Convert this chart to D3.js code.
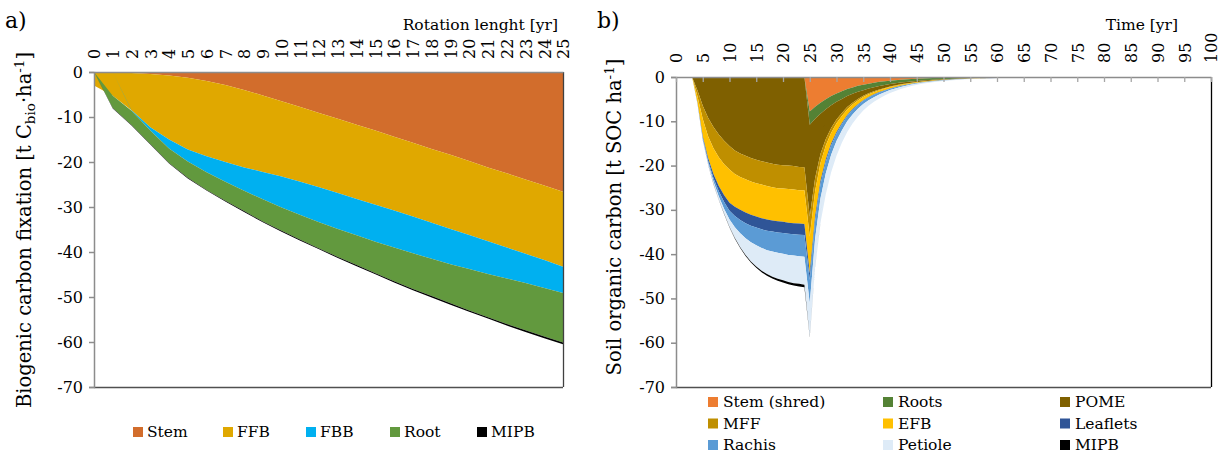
<!DOCTYPE html>
<html><head><meta charset="utf-8">
<script src="https://cdn.jsdelivr.net/npm/d3@7"></script>
<style>body{margin:0;background:#fff}svg{display:block}</style>
</head><body>
<svg id="c" width="1224" height="454"></svg>
<script>
// ---------- Panel a: biogenic carbon fixation ----------
const yearsA = [0,1,2,3,4,5,6,7,8,9,10,11,12,13,14,15,16,17,18,19,20,21,22,23,24,25];
const stemA = [0,0.05,0.2,0.45,0.8,1.3,2.0,2.9,4.0,5.2,6.5,7.8,9.1,10.4,11.7,13.0,14.4,15.7,17.1,18.4,19.8,21.2,22.5,23.9,25.2,26.6];
const ffbA  = [3.0,5.25,8.3,11.85,14.2,15.9,16.7,17.1,17.2,17.0,16.7,16.6,16.5,16.5,16.5,16.5,16.4,16.4,16.4,16.5,16.4,16.4,16.5,16.5,16.6,16.7];
const fbbA  = [0,0,0.1,0.7,2.0,2.7,3.6,4.4,5.2,6.1,6.9,7.4,7.8,8.0,8.1,8.2,8.2,8.2,8.0,7.8,7.6,7.3,6.9,6.5,6.2,5.8];
const rootA = [0,2.7,3.2,3.0,3.2,3.6,3.9,4.2,4.5,4.9,5.2,5.5,5.8,6.2,6.6,7.0,7.5,7.9,8.3,8.7,9.2,9.6,10.1,10.5,10.8,11.0];
const mipbA = [0,0.1,0.1,0.1,0.15,0.15,0.15,0.15,0.2,0.2,0.2,0.2,0.2,0.25,0.25,0.25,0.25,0.3,0.3,0.3,0.3,0.3,0.35,0.35,0.35,0.4];
const seriesA = ["Stem","FFB","FBB","Root","MIPB"];
const colorsA = ["#D26D2C","#E0A800","#00B0F0","#62993E","#000000"];
const ticksA = [0,-10,-20,-30,-40,-50,-60,-70];

// ---------- Panel b: soil organic carbon ----------
const timeB = [0,3,4,5,6,7,8,9,10,11,12,13,14,15,16,17,18,19,20,21,22,23,24,25,26,27,28,29,30,31,32,33,34,35,36,37,38,39,40,42,44,46,48,50,53,56,60,65,70,100];
const stemB = [0,0,0,0,0,0,0,0,0,0,0,0,0,0,0,0,0,0,0,0,0,0,0,
  7.8,6.7,5.8,5.0,4.3,3.7,3.2,2.7,2.35,2.0,1.75,1.5,1.3,1.1,0.95,0.82,
  0.6,0.45,0.33,0.24,0.18,0.11,0.07,0.04,0.02,0,0];
const rootsB = [0,0,0,0,0,0,0,0,0,0,0,0,0,0,0,0,0,0,0,0,0,0,0,
  3.0,2.75,2.5,2.3,2.1,1.9,1.75,1.6,1.45,1.33,1.22,1.1,1.0,0.93,0.85,0.78,
  0.65,0.54,0.45,0.38,0.32,0.24,0.18,0.12,0.08,0.05,0];
const pomeB = [0,0,
  3.0,6.5,9.2,11.3,13.0,14.4,15.6,16.6,17.3,17.8,18.3,18.7,19.0,19.3,19.6,19.8,19.9,20.0,20.1,20.3,20.4,
  20.7,13.4,9.1,6.7,5.1,4.0,3.2,2.5,2.0,1.62,1.29,1.09,0.92,0.78,0.67,0.56,
  0.41,0.29,0.22,0.16,0.11,0.07,0.04,0.02,0.008,0.003,0];
const mffB = [0,0,
  1.3,3.0,4.2,4.8,5.1,5.3,5.3,5.3,5.3,5.3,5.3,5.3,5.3,5.3,5.3,5.3,5.3,5.3,5.3,5.3,5.2,
  4.5,2.95,2.0,1.45,1.1,0.85,0.67,0.53,0.42,0.35,0.28,0.23,0.2,0.17,0.14,0.12,
  0.09,0.06,0.05,0.03,0.02,0.015,0.01,0.005,0.002,0.001,0];
const efbB = [0,0,
  1.4,3.9,4.9,5.8,6.5,7.0,7.5,7.4,7.4,7.5,7.5,7.5,7.6,7.6,7.5,7.5,7.5,7.6,7.6,7.5,7.6,
  8.3,5.7,4.1,3.1,2.4,1.95,1.55,1.25,1.0,0.84,0.69,0.59,0.5,0.42,0.36,0.3,
  0.22,0.16,0.12,0.08,0.06,0.04,0.02,0.012,0.005,0.001,0];
const leafB = [0,0,
  0.1,0.3,0.6,0.9,1.2,1.5,1.8,2.1,2.3,2.4,2.5,2.5,2.5,2.5,2.5,2.5,2.5,2.5,2.5,2.5,2.5,
  1.5,1.04,0.74,0.58,0.45,0.37,0.3,0.24,0.2,0.17,0.14,0.12,0.1,0.08,0.07,0.06,
  0.04,0.03,0.02,0.02,0.01,0.01,0.005,0.003,0.001,0,0];
const rachB = [0,0,
  0.1,0.3,0.5,0.8,1.2,1.6,2.0,2.5,3.0,3.4,3.7,4.0,4.2,4.4,4.5,4.6,4.7,4.8,4.8,4.9,4.9,
  5.3,4.0,3.2,2.6,2.1,1.7,1.43,1.2,1.04,0.88,0.74,0.62,0.53,0.45,0.38,0.32,
  0.23,0.17,0.12,0.09,0.07,0.04,0.025,0.013,0.005,0.002,0];
const petB = [0,0,
  0.08,0.15,0.35,0.52,0.7,1.1,1.68,2.45,3.12,3.8,4.35,4.8,5.15,5.4,5.68,5.85,6.0,6.08,6.25,6.2,6.3,
  7.5,6.4,5.55,4.77,3.95,3.33,2.75,2.38,2.04,1.74,1.46,1.25,1.05,0.9,0.78,0.64,
  0.46,0.34,0.24,0.18,0.14,0.075,0.05,0.027,0.009,0.003,0];
const mipbB = [0,0,
  0.02,0.05,0.05,0.08,0.1,0.1,0.12,0.15,0.18,0.2,0.25,0.3,0.35,0.4,0.42,0.45,0.5,0.52,0.55,0.58,0.6,
  0.15,0.05,0.02,0,0,0,0,0,0,0,0,0,0,0,0,0,
  0,0,0,0,0,0,0,0,0,0,0];
const seriesB = ["Stem (shred)","Roots","POME","MFF","EFB","Leaflets","Rachis","Petiole","MIPB"];
const colorsB = ["#ED7D31","#548235","#7F6000","#BF8F00","#FFC000","#2F5597","#5B9BD5","#DEEBF7","#000000"];
const ticksB = [0,-10,-20,-30,-40,-50,-60,-70];
const xTicksB = [0,5,10,15,20,25,30,35,40,45,50,55,60,65,70,75,80,85,90,95,100];

const svg = d3.select("#c");
const SERIF = "'DejaVu Serif', serif";
const TICKF = "'DejaVu Serif', serif";

function buildRows(xs, arrs, names){
  return xs.map((t,i)=>{const r={t}; names.forEach((n,k)=>r[n]=-arrs[k][i]); return r;});
}

function panel(opt){
  const {xs, arrs, names, colors, x, y, yTicks, xTicks, xOffset, tickMarksTop, rightColor, bottomColor} = opt;
  const g = svg.append("g");
  const rows = buildRows(xs, arrs, names);
  const stack = d3.stack().keys(names).offset(d3.stackOffsetDiverging);
  const layers = stack(rows);
  const area = d3.area().x(d=>x(d.data.t)).y0(d=>y(d[0])).y1(d=>y(d[1]));
  g.selectAll("path.layer").data(layers).join("path")
    .attr("class","layer")
    .attr("fill",(d,i)=>colors[i])
    .attr("d",area);
  const [x0,x1] = x.range(); const [y0,y1] = y.range();
  g.append("line").attr("x1",x0).attr("x2",x1).attr("y1",y1+0.5).attr("y2",y1+0.5).attr("stroke",bottomColor).attr("stroke-width",1.3);
  g.append("line").attr("x1",x1+0.5).attr("x2",x1+0.5).attr("y1",y0).attr("y2",y1).attr("stroke",rightColor).attr("stroke-width",1.3);
  const ya = d3.axisLeft(y).tickValues(yTicks).tickSize(5).tickPadding(6).tickFormat(d=>String(d));
  const gy = g.append("g").attr("transform",`translate(${x0},0)`).call(ya);
  gy.select(".domain").attr("stroke","#8c8c8c").attr("stroke-width",1.5);
  gy.selectAll(".tick line").attr("stroke","#8c8c8c").attr("stroke-width",1.5);
  gy.selectAll("text").attr("font-family",TICKF).attr("font-size",16).attr("fill","#000");
  const xa = d3.axisTop(x).tickValues(xTicks).tickSize(tickMarksTop? -5 : 0).tickSizeOuter(0).tickFormat(d=>String(d));
  const gx = g.append("g").attr("transform",`translate(0,${y0})`).call(xa);
  gx.select(".domain").attr("stroke","#8c8c8c").attr("stroke-width",1.5);
  gx.selectAll(".tick line").attr("stroke","#a6a6a6").attr("stroke-width",1.3);
  gx.selectAll("text")
    .attr("font-family",TICKF).attr("font-size",16).attr("fill","#000")
    .attr("transform","rotate(-90)")
    .attr("x",xOffset).attr("y",0).attr("dy","0.36em")
    .style("text-anchor","start");
  return g;
}

const xA = d3.scaleLinear().domain([0,25]).range([94,563]);
const yA = d3.scaleLinear().domain([0,-70]).range([72,387]);
panel({xs:yearsA, arrs:[stemA,ffbA,fbbA,rootA,mipbA], names:seriesA, colors:colorsA,
  x:xA, y:yA, yTicks:ticksA, xTicks:yearsA, xOffset:13, tickMarksTop:false,
  rightColor:"#404040", bottomColor:"#505050"});

const xB = d3.scaleLinear().domain([0,100]).range([676,1211]);
const yB = d3.scaleLinear().domain([0,-70]).range([77,387]);
panel({xs:timeB, arrs:[stemB,rootsB,pomeB,mffB,efbB,leafB,rachB,petB,mipbB], names:seriesB, colors:colorsB,
  x:xB, y:yB, yTicks:ticksB, xTicks:xTicksB, xOffset:14, tickMarksTop:true,
  rightColor:"#000000", bottomColor:"#505050"});

svg.append("text").attr("x",5).attr("y",28).attr("font-family",SERIF).attr("font-size",22).text("a)");
svg.append("text").attr("x",597).attr("y",28).attr("font-family",SERIF).attr("font-size",22).text("b)");

svg.append("text").attr("x",558).attr("y",30).attr("text-anchor","end").attr("font-family",SERIF).attr("font-size",15.5).text("Rotation lenght [yr]");
svg.append("text").attr("x",1178).attr("y",30).attr("text-anchor","end").attr("font-family",SERIF).attr("font-size",15.5).text("Time [yr]");

const tA = svg.append("text").attr("transform","translate(31,230) rotate(-90)").attr("text-anchor","middle")
  .attr("font-family",SERIF).attr("font-size",19.5);
tA.append("tspan").text("Biogenic carbon fixation [t C");
tA.append("tspan").attr("font-size",13.5).attr("dy",4).text("bio");
tA.append("tspan").attr("dy",-4).text("·ha");
tA.append("tspan").attr("font-size",13.5).attr("dy",-7).text("-1");
tA.append("tspan").attr("dy",7).text("]");

const tB = svg.append("text").attr("transform","translate(621,217) rotate(-90)").attr("text-anchor","middle")
  .attr("font-family",SERIF).attr("font-size",19.5);
tB.append("tspan").text("Soil organic carbon [t SOC ha");
tB.append("tspan").attr("font-size",13.5).attr("dy",-7).text("-1");
tB.append("tspan").attr("dy",7).text("]");

const legA = [133,223,306,390,477];
seriesA.forEach((n,i)=>{
  const g = svg.append("g").attr("transform",`translate(${legA[i]},432)`);
  g.append("rect").attr("x",0).attr("y",-5).attr("width",10).attr("height",10).attr("fill",colorsA[i]);
  g.append("text").attr("x",14).attr("y",0).attr("dy","0.35em").attr("font-family",SERIF).attr("font-size",15.5).text(n);
});
const legBx = [708,883,1060], legBy = [402,423.5,445];
seriesB.forEach((n,i)=>{
  const g = svg.append("g").attr("transform",`translate(${legBx[i%3]},${legBy[Math.floor(i/3)]})`);
  g.append("rect").attr("x",0).attr("y",-5).attr("width",10).attr("height",10).attr("fill",colorsB[i]);
  g.append("text").attr("x",15).attr("y",0).attr("dy","0.35em").attr("font-family",SERIF).attr("font-size",15.5).text(n);
});
</script>
</body></html>
